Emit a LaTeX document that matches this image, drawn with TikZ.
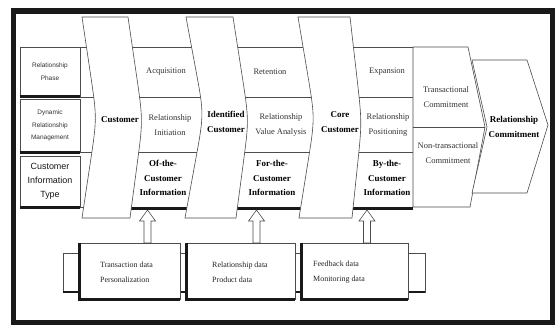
\documentclass[tikz,border=0pt]{standalone}
\usepackage{fontspec}
\setmainfont{Liberation Serif}
\newfontfamily\lsans{Liberation Sans}
\usetikzlibrary{calc}
\newcommand\chevpath[2]{(#1t) -- (#2t) -- ($(#2t)!0.55!(#2m)$) .. controls (#2m) .. ($(#2m)!0.45!(#2b)$) -- (#2b) -- (#1b) -- ($(#1b)!0.55!(#1m)$) .. controls (#1m) .. ($(#1m)!0.45!(#1t)$) -- cycle}
\begin{document}
\begin{tikzpicture}[x=1bp,y=-1bp,
  ln/.style={draw=black!70, line width=0.6bp},
  chev/.style={ln, fill=white},
  thk/.style={draw=black!90, line width=2.6bp},
  ntxt/.style={align=center, inner sep=0pt, text=black!80, font=\fontsize{8.5}{14.5}\selectfont},
  btxt/.style={align=center, inner sep=0pt, text=black, font=\fontsize{9}{14.5}\selectfont\bfseries},
  lbox/.style={ln, fill=white, align=center, inner sep=0pt, text=black!80, font=\lsans\fontsize{6.5}{12.5}\selectfont},
  dbox/.style={ln, fill=white, inner sep=0pt},
  dtxt/.style={align=left, anchor=west, inner sep=0pt, text=black!85, font=\fontsize{8}{15}\selectfont},
  harrow/.style={ln, fill=white},
]
\useasboundingbox (0,0) rectangle (555,325);
\fill[white] (0,0) rectangle (555,325);
% frame
\draw[line width=5.5bp, black!90] (13.5,11) rectangle (552.5,322.5);

% chevron edge coordinates
\coordinate (e0t) at (82,17);  \coordinate (e0m) at (97,118);  \coordinate (e0b) at (82,218);
\coordinate (e1t) at (128,17); \coordinate (e1m) at (143,120); \coordinate (e1b) at (130,218);
\coordinate (e2t) at (186,17); \coordinate (e2m) at (204,114); \coordinate (e2b) at (185,218);
\coordinate (e3t) at (233,17); \coordinate (e3m) at (249,120); \coordinate (e3b) at (236,218);
\coordinate (e4t) at (298,17); \coordinate (e4m) at (315,118); \coordinate (e4b) at (299,218);
\coordinate (e5t) at (350,17); \coordinate (e5m) at (362,122); \coordinate (e5b) at (352,218);

% row lines of the table
\draw[ln] (80,47) -- (413,47);
\draw[ln] (80,97) -- (413,97);
\draw[ln] (80,152) -- (413,152);
\draw[ln] (80,207) -- (413,207);
\draw[ln] (413,47) -- (413,207);
% commitment column
\draw[ln, fill=white] (413,47) -- (468,47) -- (485,127) -- (470,207) -- (413,207) -- cycle;
\draw[ln] (413,127) -- (485,127);
% thick bars under columns
\draw[thk] (125,208.5) -- (413,208.5);

% chevrons
\draw[chev] \chevpath{e0}{e1};
\draw[chev] \chevpath{e2}{e3};
\draw[chev] \chevpath{e4}{e5};

% relationship commitment
\draw[ln, fill=white] (472,60) -- (527,60) -- (548,125) -- (527,193) -- (472,193) -- (487,127) -- cycle;

% left label boxes
\node[lbox, minimum width=60bp, minimum height=49bp] (lb1) at (50,71.5) {Relationship\\Phase};
\node[lbox, minimum width=60bp, minimum height=53bp] (lb2) at (50,125.5) {Dynamic\\Relationship\\Management};
\node[lbox, minimum width=60bp, minimum height=51bp, font=\lsans\fontsize{9}{14}\selectfont, text=black!90] (lb3) at (50,181.5) {Customer\\Information\\Type};
\draw[thk] (lb1.south west) -- (lb1.south east);
\draw[thk] (lb2.south west) -- (lb2.south east);
\draw[thk] (lb3.south west) -- (lb3.south east);

% chevron texts
\node[btxt] (c1) at (120,120) {Customer};
\node[btxt] (c2) at (226,122) {Identified\\Customer};
\node[btxt] (c3) at (340,122) {Core\\Customer};
\node[btxt] (rc) at (514,127) {Relationship\\Commitment};

% column texts
\node[ntxt] (a1) at (166,72) {Acquisition};
\node[ntxt] (a2) at (170,125) {Relationship\\Initiation};
\node[btxt] (a3) at (163,178) {Of-the-\\Customer\\Information};
\node[ntxt] (b1) at (270,72) {Retention};
\node[ntxt] (b2) at (281,125) {Relationship\\Value Analysis};
\node[btxt] (b3) at (272,178) {For-the-\\Customer\\Information};
\node[ntxt] (d1) at (387,72) {Expansion};
\node[ntxt] (d2) at (388,125) {Relationship\\Positioning};
\node[btxt] (d3) at (387,178) {By-the-\\Customer\\Information};
\node[ntxt] (t1) at (446,97) {Transactional\\Commitment};
\node[ntxt] (t2) at (448,153) {Non-transactional\\Commitment};

% hollow arrows
\coordinate (h1) at (147.5,210);
\coordinate (h2) at (256.5,210);
\coordinate (h3) at (367,210);
\foreach \h in {h1,h2,h3}
  \draw[harrow] (\h) -- ++(8,11) -- ++(-4.5,0) -- ++(0,22) -- ++(-7,0) -- ++(0,-22) -- ++(-4.5,0) -- cycle;

% data boxes
\draw[ln, fill=white] (63,253) rectangle (425,292);
\draw[thk] (63,292) -- (425,292);
\node[dbox, minimum width=100bp, minimum height=56bp] (bA) at (130,271) {};
\node[dbox, minimum width=108bp, minimum height=56bp] (bB) at (241,271) {};
\node[dbox, minimum width=106bp, minimum height=56bp] (bC) at (355,271) {};
\foreach \b in {bA,bB,bC}{
  \draw[thk] (\b.north west) -- (\b.south west) -- (\b.south east);
}
\node[dtxt] (xA) at (100,272.5) {Transaction data\\Personalization};
\node[dtxt] (xB) at (212,272.5) {Relationship data\\Product data};
\node[dtxt] (xC) at (313,272.5) {Feedback data\\Monitoring data};
\end{tikzpicture}
\end{document}
